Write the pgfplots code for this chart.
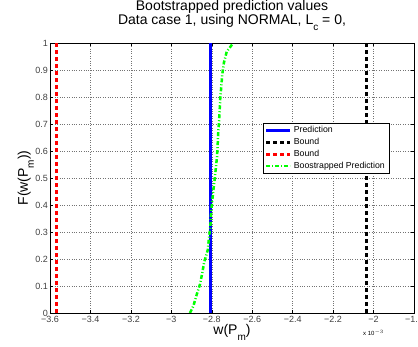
\documentclass[border=0pt]{standalone}
\usepackage{fontspec}
\setmainfont{Liberation Sans}
\usepackage{pgfplots}
\pgfplotsset{compat=1.18}
\newcommand{\msub}[1]{\raisebox{-0.42em}{\fontsize{10}{10}\selectfont #1}}
\begin{document}
\begin{tikzpicture}[x=1pt,y=1pt]
\useasboundingbox (0,0) rectangle (418,347);
\begin{axis}[
  at={(50pt,34pt)}, anchor=south west,
  scale only axis, width=364pt, height=270pt,
  xmin=-3.6, xmax=-1.8, ymin=0, ymax=1,
  xtick={-3.6,-3.4,-3.2,-3.0,-2.8,-2.6,-2.4,-2.2,-2.0,-1.8},
  xticklabels={−3.6,−3.4,−3.2,−3,−2.8,−2.6,−2.4,−2.2,−2,−1.8},
  ytick={0,0.1,0.2,0.3,0.4,0.5,0.6,0.7,0.8,0.9,1},
  yticklabels={0,0.1,0.2,0.3,0.4,0.5,0.6,0.7,0.8,0.9,1},
  tick label style={font=\fontsize{9}{9}\selectfont, text=black!75},
  xticklabel style={yshift=0.5pt},
  yticklabel style={xshift=1.5pt},
  scaled x ticks=false,
  grid=major, major grid style={dotted, black!55, line width=0.5pt},
  tick align=inside, tick style={black, line width=0.5pt}, major tick length=3pt,
  axis line style={line width=0.8pt},
  title={Bootstrapped prediction values\\Data case 1, using NORMAL, L\msub{c} = 0,},
  title style={font=\fontsize{14}{13}\selectfont, align=center, at={(0.5,1)}, anchor=south, yshift=3pt},
  xlabel={w(P\msub{m})},
  xlabel style={font=\fontsize{14}{13}\selectfont, at={(axis description cs:0.5,0)}, anchor=base, yshift=-22pt},
  ylabel={F(w(P\msub{m}))},
  ylabel style={font=\fontsize{14}{13}\selectfont, at={(axis description cs:0,0.5)}, anchor=base, yshift=22pt},
  legend style={at={(rel axis cs:0.584,0.705)}, anchor=north west, font=\fontsize{8.75}{9.5}\selectfont, draw=black, line width=0.6pt, inner xsep=2pt, inner ysep=1.5pt, row sep=0pt},
  legend cell align=left,
  legend image code/.code={\draw[#1] (0pt,0pt) -- (24pt,0pt);},
]
\addplot[blue, line width=3pt] coordinates {(-2.805,0) (-2.805,1)};
\addlegendentry{Prediction}
\addplot[black, line width=3pt, dash pattern=on 4pt off 3pt] coordinates {(-2.034,0) (-2.034,1)};
\addlegendentry{Bound}
\addplot[red, line width=3pt, dash pattern=on 4pt off 3pt] coordinates {(-3.570,0) (-3.570,1)};
\addlegendentry{Bound}
\addplot[green, line width=2.5pt, dash pattern=on 4pt off 2pt on 1pt off 2pt] coordinates {
(-2.908,0) (-2.891,0.026) (-2.875,0.067) (-2.858,0.107) (-2.847,0.149) (-2.837,0.190)
(-2.820,0.233) (-2.814,0.277) (-2.807,0.320) (-2.804,0.363) (-2.799,0.406) (-2.793,0.449)
(-2.786,0.493) (-2.780,0.536) (-2.774,0.579) (-2.771,0.622) (-2.768,0.668) (-2.764,0.711)
(-2.761,0.752) (-2.758,0.795) (-2.753,0.838) (-2.748,0.884) (-2.740,0.927) (-2.726,0.968) (-2.694,1)};
\addlegendentry{Boostrapped Prediction}
\end{axis}
\node[font=\fontsize{6}{6}\selectfont, anchor=base west, inner sep=0pt] at (363,11) {x 10$^{-3}$};
\end{tikzpicture}
\end{document}
